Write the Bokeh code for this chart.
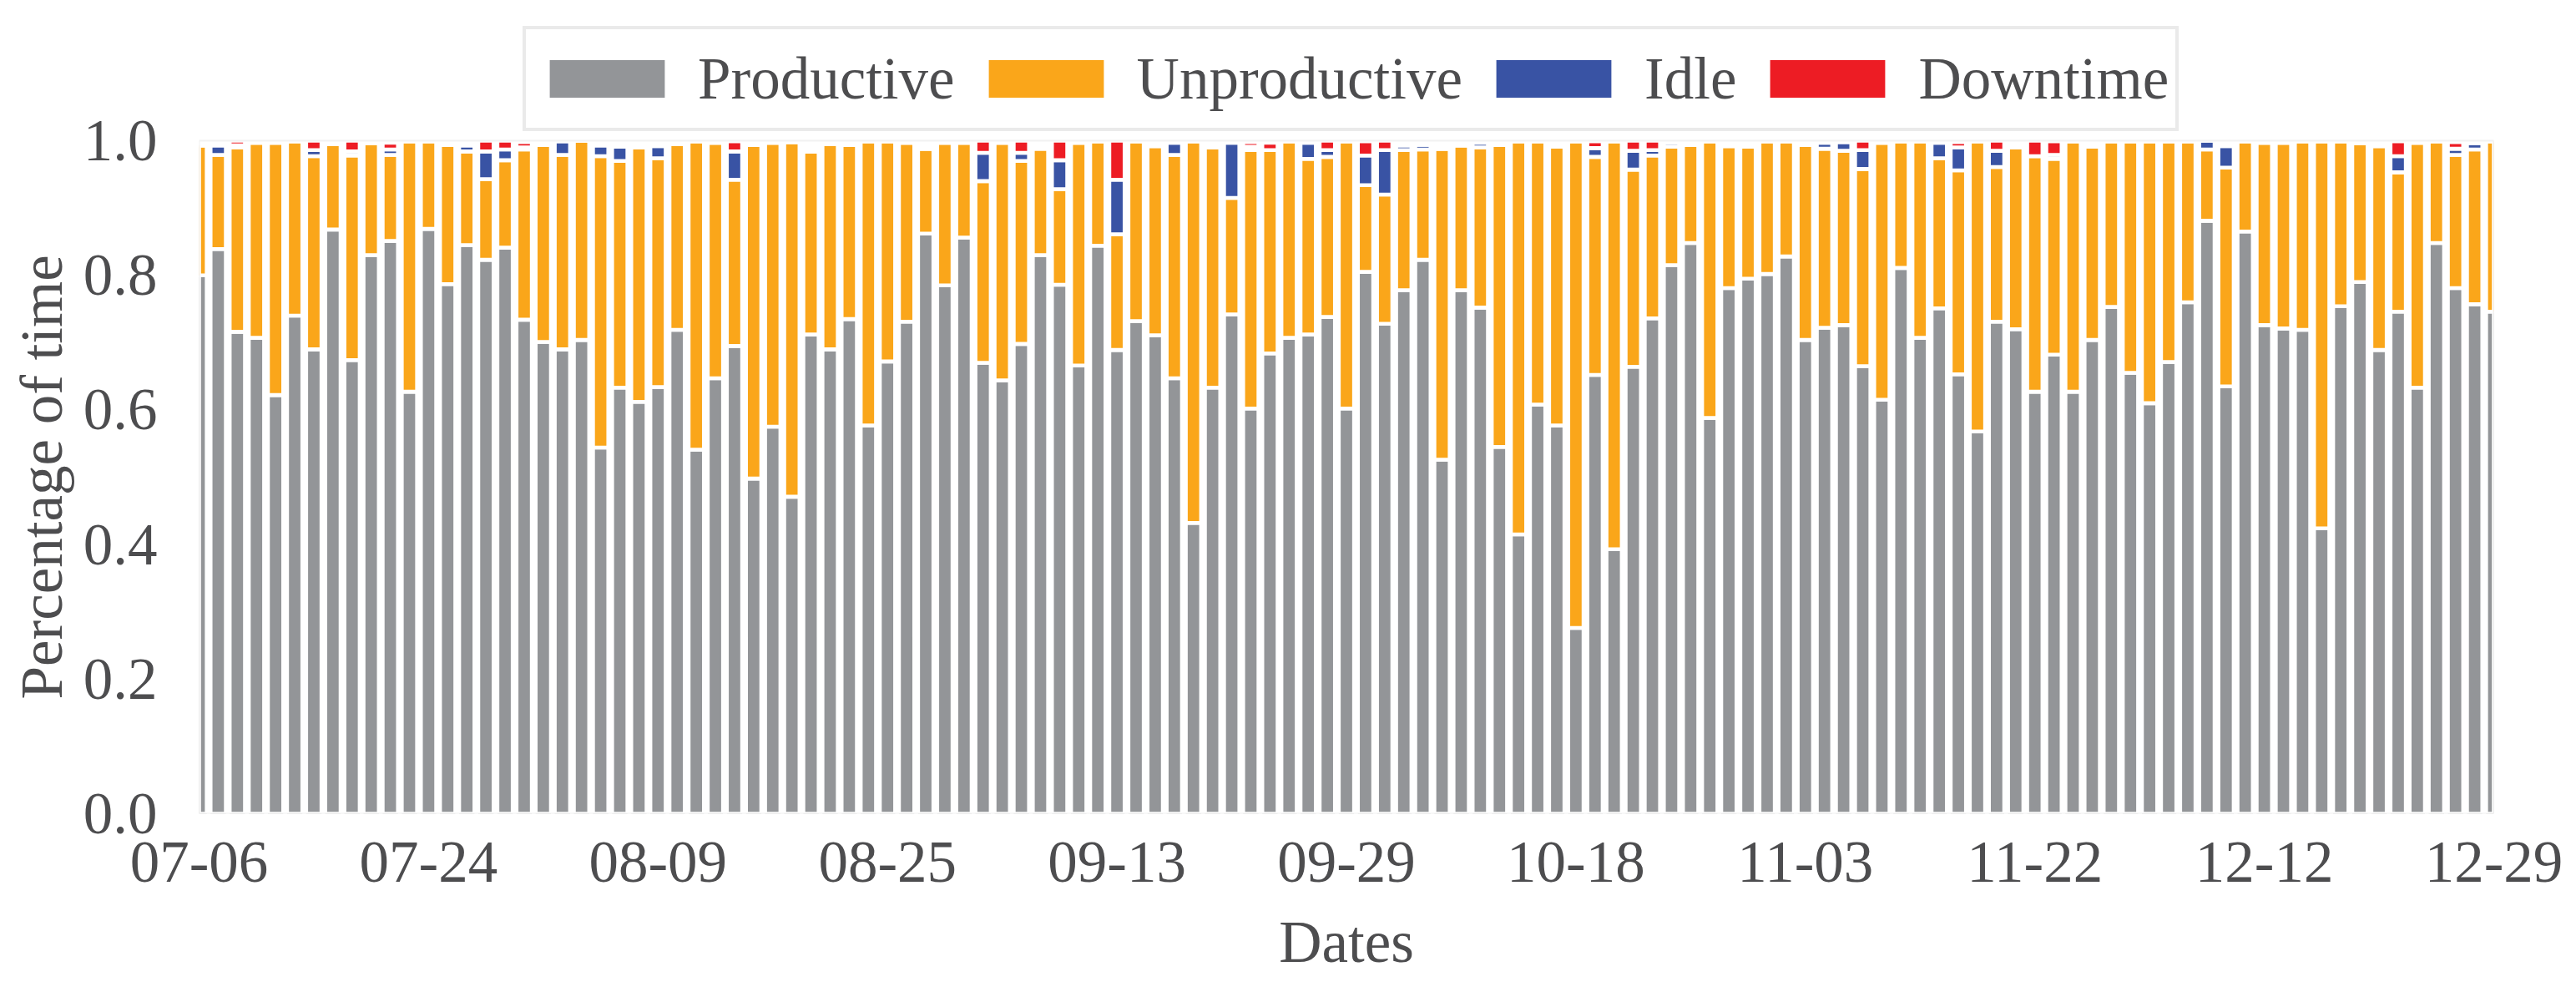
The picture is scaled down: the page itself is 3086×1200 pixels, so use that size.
from bokeh.plotting import figure
from bokeh.models import (ColumnDataSource, Range1d, FixedTicker, Legend,
                          LegendItem, PrintfTickFormatter, BoxAnnotation, Title)
from bokeh.embed import file_html
from bokeh.resources import INLINE

# ---- data ----
productive = [
    0.800, 0.839, 0.716, 0.707, 0.622, 0.740, 0.690, 0.868, 0.674, 0.830,
    0.851, 0.627, 0.869, 0.787, 0.845, 0.823, 0.841, 0.734, 0.701, 0.690,
    0.704, 0.544, 0.633, 0.612, 0.634, 0.719, 0.541, 0.647, 0.695, 0.498,
    0.575, 0.471, 0.712, 0.690, 0.735, 0.577, 0.672, 0.731, 0.862, 0.785,
    0.856, 0.670, 0.644, 0.698, 0.830, 0.786, 0.666, 0.844, 0.689, 0.732,
    0.711, 0.647, 0.432, 0.633, 0.742, 0.602, 0.684, 0.707, 0.712, 0.738,
    0.602, 0.805, 0.728, 0.778, 0.823, 0.526, 0.778, 0.752, 0.545, 0.415,
    0.608, 0.577, 0.276, 0.652, 0.393, 0.664, 0.736, 0.815, 0.848, 0.588,
    0.781, 0.795, 0.802, 0.828, 0.704, 0.722, 0.726, 0.665, 0.615, 0.811,
    0.707, 0.751, 0.653, 0.568, 0.731, 0.720, 0.627, 0.682, 0.627, 0.704,
    0.753, 0.655, 0.610, 0.671, 0.760, 0.881, 0.635, 0.865, 0.726, 0.721,
    0.719, 0.424, 0.754, 0.790, 0.689, 0.746, 0.633, 0.848, 0.781, 0.757,
    0.746,
]
unproductive = [
    0.193, 0.140, 0.274, 0.290, 0.375, 0.259, 0.287, 0.127, 0.304, 0.166,
    0.128, 0.372, 0.130, 0.207, 0.139, 0.120, 0.130, 0.253, 0.293, 0.289,
    0.296, 0.433, 0.337, 0.378, 0.340, 0.276, 0.458, 0.350, 0.247, 0.496,
    0.422, 0.527, 0.272, 0.305, 0.259, 0.422, 0.327, 0.266, 0.126, 0.212,
    0.141, 0.270, 0.353, 0.272, 0.158, 0.142, 0.331, 0.155, 0.172, 0.267,
    0.281, 0.332, 0.567, 0.357, 0.173, 0.384, 0.302, 0.292, 0.261, 0.238,
    0.397, 0.129, 0.192, 0.208, 0.164, 0.462, 0.215, 0.238, 0.449, 0.584,
    0.391, 0.414, 0.723, 0.324, 0.606, 0.293, 0.242, 0.176, 0.146, 0.411,
    0.211, 0.196, 0.197, 0.171, 0.290, 0.266, 0.259, 0.293, 0.382, 0.188,
    0.292, 0.223, 0.303, 0.431, 0.230, 0.270, 0.350, 0.291, 0.372, 0.287,
    0.246, 0.344, 0.389, 0.328, 0.239, 0.106, 0.325, 0.134, 0.271, 0.276,
    0.280, 0.575, 0.245, 0.206, 0.303, 0.207, 0.364, 0.151, 0.198, 0.230,
    0.253,
]
idle = [
    0.000, 0.014, 0.003, 0.000, 0.000, 0.000, 0.009, 0.000, 0.006, 0.000,
    0.008, 0.000, 0.000, 0.000, 0.009, 0.041, 0.016, 0.003, 0.000, 0.020,
    0.000, 0.016, 0.021, 0.000, 0.018, 0.000, 0.000, 0.000, 0.042, 0.000,
    0.000, 0.000, 0.000, 0.000, 0.000, 0.000, 0.000, 0.000, 0.000, 0.000,
    0.000, 0.042, 0.000, 0.012, 0.004, 0.043, 0.000, 0.000, 0.081, 0.000,
    0.000, 0.018, 0.000, 0.000, 0.082, 0.005, 0.000, 0.000, 0.024, 0.010,
    0.000, 0.044, 0.066, 0.007, 0.007, 0.000, 0.000, 0.007, 0.000, 0.000,
    0.000, 0.000, 0.000, 0.013, 0.000, 0.028, 0.008, 0.006, 0.000, 0.000,
    0.000, 0.000, 0.000, 0.000, 0.000, 0.009, 0.013, 0.028, 0.000, 0.000,
    0.000, 0.023, 0.034, 0.000, 0.024, 0.000, 0.000, 0.006, 0.000, 0.000,
    0.000, 0.000, 0.000, 0.000, 0.000, 0.013, 0.032, 0.000, 0.000, 0.000,
    0.000, 0.000, 0.000, 0.000, 0.000, 0.024, 0.000, 0.000, 0.009, 0.009,
    0.000,
]
downtime = [
    0.000, 0.000, 0.007, 0.000, 0.000, 0.000, 0.014, 0.000, 0.016, 0.000,
    0.010, 0.000, 0.000, 0.000, 0.000, 0.016, 0.013, 0.008, 0.000, 0.000,
    0.000, 0.000, 0.000, 0.000, 0.000, 0.000, 0.000, 0.000, 0.015, 0.000,
    0.000, 0.000, 0.000, 0.000, 0.000, 0.000, 0.000, 0.000, 0.000, 0.000,
    0.000, 0.018, 0.000, 0.018, 0.004, 0.029, 0.000, 0.000, 0.058, 0.000,
    0.000, 0.000, 0.000, 0.000, 0.000, 0.007, 0.011, 0.000, 0.000, 0.014,
    0.000, 0.021, 0.014, 0.000, 0.000, 0.000, 0.000, 0.000, 0.000, 0.000,
    0.000, 0.000, 0.000, 0.010, 0.000, 0.015, 0.014, 0.000, 0.000, 0.000,
    0.000, 0.000, 0.000, 0.000, 0.000, 0.000, 0.000, 0.014, 0.000, 0.000,
    0.000, 0.000, 0.008, 0.000, 0.015, 0.000, 0.023, 0.020, 0.000, 0.000,
    0.000, 0.000, 0.000, 0.000, 0.000, 0.000, 0.000, 0.000, 0.000, 0.000,
    0.000, 0.000, 0.000, 0.000, 0.000, 0.022, 0.000, 0.000, 0.010, 0.000,
    0.000,
]
tick_labels = ["07-06", "07-24", "08-09", "08-25", "09-13", "09-29",
               "10-18", "11-03", "11-22", "12-12", "12-29"]
tick_every = 12
series_names = ["Productive", "Unproductive", "Idle", "Downtime"]
colors = ["#939598", "#faa61a", "#3953a4", "#ed1c24"]
y_ticks = [0.0, 0.2, 0.4, 0.6, 0.8, 1.0]

# ---- styling / layout constants (pixels) ----
FONT = "Liberation Serif"
TXT = "#4d4d4f"
FS = "71px"
EDGE_W = 4.6
AXES_H = 806          # height of the 0..1 plotting area
HEAD_H = 156          # room above the 0..1 area (holds the legend)
FRAME_W = 2749
Y_TOP = (AXES_H + HEAD_H) / AXES_H

n = len(productive)
source = ColumnDataSource(dict(
    x=list(range(n)),
    Productive=productive,
    Unproductive=unproductive,
    Idle=idle,
    Downtime=downtime,
))

p = figure(
    frame_width=FRAME_W, frame_height=AXES_H + HEAD_H,
    x_range=Range1d(0, n - 1), y_range=Range1d(0, Y_TOP),
    output_backend="svg", toolbar_location=None,
    min_border_left=233, min_border_right=88,
    min_border_top=12, min_border_bottom=210,
)

renderers = p.vbar_stack(series_names, x="x", width=0.8, source=source,
                         fill_color=colors, line_color="white",
                         line_width=EDGE_W)

p.xgrid.grid_line_color = None
p.ygrid.grid_line_color = None
p.outline_line_color = None
p.background_fill_color = "white"
p.border_fill_color = "white"

# axes box around the 0..1 area
p.add_layout(BoxAnnotation(left=0, right=n - 1, bottom=0, top=1,
                           fill_alpha=0, line_color="#cfcfcf", line_width=2))

tick_pos = list(range(0, n, tick_every))
p.xaxis.ticker = FixedTicker(ticks=tick_pos)
p.xaxis.major_label_overrides = {t: lab for t, lab in zip(tick_pos, tick_labels)}
p.yaxis.ticker = FixedTicker(ticks=y_ticks)
p.yaxis.formatter = PrintfTickFormatter(format="%.1f")

for ax in (p.xaxis[0], p.yaxis[0]):
    ax.axis_line_color = None
    ax.major_tick_line_color = None
    ax.minor_tick_line_color = None
    ax.major_label_text_font = FONT
    ax.major_label_text_font_size = FS
    ax.major_label_text_color = TXT
    ax.axis_label_text_font = FONT
    ax.axis_label_text_font_size = FS
    ax.axis_label_text_font_style = "normal"
    ax.axis_label_text_color = TXT

p.xaxis.axis_label = "Dates"
p.xaxis.major_label_standoff = 28
p.xaxis.axis_label_standoff = 30
p.yaxis.major_label_standoff = 44

# y-axis title, centred on the 0..1 area (not the whole frame)
p.add_layout(Title(text="Percentage of time", align="left", offset=137,
                   vertical_align="bottom", standoff=16,
                   text_font=FONT, text_font_size=FS, text_font_style="normal",
                   text_color=TXT), "left")

legend = Legend(
    items=[LegendItem(label=nm, renderers=[r]) for nm, r in zip(series_names, renderers)],
    orientation="horizontal",
    location=(388, AXES_H + 11),
    label_text_font=FONT, label_text_font_size=FS, label_text_color=TXT,
    glyph_width=178, glyph_height=62, label_standoff=20, spacing=20,
    padding=8, margin=0, label_height=102,
    border_line_color="#d6d6d6", border_line_width=4,
    background_fill_color="white", background_fill_alpha=1.0,
)
p.add_layout(legend, "center")

open("out.html", "w").write(file_html(p, INLINE))
